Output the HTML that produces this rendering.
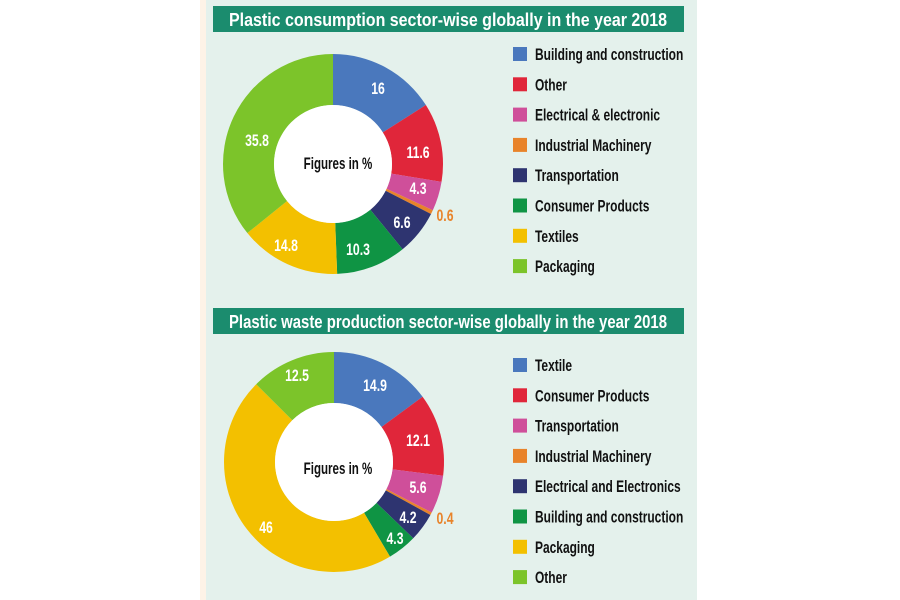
<!DOCTYPE html>
<html><head><meta charset="utf-8"><style>
body{margin:0;background:#fff;width:900px;height:600px;overflow:hidden;font-family:"Liberation Sans",sans-serif}
</style></head><body>
<svg id="s" width="900" height="600" xmlns="http://www.w3.org/2000/svg" style="position:absolute;left:0;top:0">
<rect x="200" y="0" width="6" height="600" fill="#fdf3e7"/>
<rect x="206" y="0" width="491" height="600" fill="#e4f1ec"/>
<rect x="213" y="6" width="471" height="26" fill="#1b8c6e"/>
<rect x="213" y="308" width="471" height="26" fill="#1b8c6e"/>
<g font-family="Liberation Sans, sans-serif" font-weight="bold" fill="#fff" font-size="18" text-anchor="middle">
<text x="448" y="26" textLength="438" lengthAdjust="spacingAndGlyphs">Plastic consumption sector-wise globally in the year 2018</text>
<text x="448" y="328" textLength="438" lengthAdjust="spacingAndGlyphs">Plastic waste production sector-wise globally in the year 2018</text>
</g>
<g id="c1"></g><g id="c2"></g>
</svg>
<script>
var cols=["#4a78bd","#e0263a","#cf4f9a","#e8832a","#2e3470","#0f9444","#f3c000","#7cc42a"];
function donut(g,cx,cy,R,r,vals){
 var a=0,h="";
 vals.forEach(function(v,i){
  var a1=a+v/100*2*Math.PI;
  function p(rad,an){return [cx+rad*Math.sin(an),cy-rad*Math.cos(an)];}
  var A=p(R,a),B=p(R,a1),C=p(r,a1),D=p(r,a),l=(a1-a)>Math.PI?1:0;
  h+='<path fill="'+cols[i]+'" d="M'+A+' A'+R+','+R+' 0 '+l+' 1 '+B+' L'+C+' A'+r+','+r+' 0 '+l+' 0 '+D+'Z"/>';
  a=a1;
 });
 h+='<circle cx="'+cx+'" cy="'+cy+'" r="'+r+'" fill="#fff"/>';
 document.getElementById(g).innerHTML=h;
}
donut("c1",333,164,110,59,[16,11.6,4.3,0.6,6.6,10.3,14.8,35.8]);
donut("c2",334,462,110,59,[14.9,12.1,5.6,0.4,4.2,4.3,46,12.5]);
var s=document.getElementById("s"),NS="http://www.w3.org/2000/svg";
function t(x,y,str,fill,size,anchor,sx){sx=sx||0.72;var e=document.createElementNS(NS,"text");e.setAttribute("x",0);e.setAttribute("y",0);e.setAttribute("transform","translate("+x+","+y+") scale("+sx+",1)");e.setAttribute("fill",fill);e.setAttribute("font-size",size);e.setAttribute("font-weight","bold");e.setAttribute("text-anchor",anchor||"middle");e.setAttribute("font-family","Liberation Sans, sans-serif");e.textContent=str;s.appendChild(e);}
var L1=[[378,94,"16"],[418,158,"11.6"],[418,194,"4.3"],[402,228,"6.6"],[358,255,"10.3"],[286,251,"14.8"],[257,146,"35.8"]];
L1.forEach(function(l){t(l[0],l[1],l[2],"#fff",17);});t(445,221,"0.6","#e8832a",17);
var L2=[[375,391,"14.9"],[418,446,"12.1"],[418,493,"5.6"],[408,523,"4.2"],[395,544,"4.3"],[266,533,"46"],[297,381,"12.5"]];
L2.forEach(function(l){t(l[0],l[1],l[2],"#fff",17);});t(445,524,"0.4","#e8832a",17);
t(338,169,"Figures in %","#111",17,"middle",0.68);t(338,474,"Figures in %","#111",17,"middle",0.68);
var n1=["Building and construction","Other","Electrical & electronic","Industrial Machinery","Transportation","Consumer Products","Textiles","Packaging"];
var n2=["Textile","Consumer Products","Transportation","Industrial Machinery","Electrical and Electronics","Building and construction","Packaging","Other"];
function leg(names,y0){names.forEach(function(n,i){var y=y0+i*30.3;var r=document.createElementNS(NS,"rect");r.setAttribute("x",513);r.setAttribute("y",y-7);r.setAttribute("width",14);r.setAttribute("height",14);r.setAttribute("fill",cols[i]);s.appendChild(r);t(535,y+6,n,"#111",17,"start",0.705);});}
leg(n1,54);leg(n2,365);
</script>
</body></html>
